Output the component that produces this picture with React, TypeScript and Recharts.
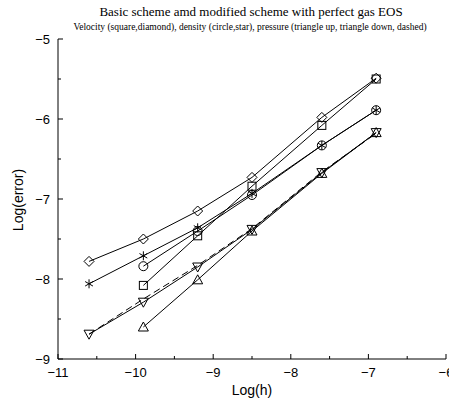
import React from 'react';
import { LineChart, Line, XAxis, YAxis } from 'recharts';

const logH = [-10.6, -9.9, -9.2, -8.5, -7.6, -6.9];
const velocitySquare = [null, -8.08, -7.46, -6.84, -6.08, -5.5];
const velocityDiamond = [-7.78, -7.5, -7.15, -6.73, -5.98, -5.49];
const densityCircle = [null, -7.84, -7.4, -6.95, -6.33, -5.89];
const densityStar = [-8.06, -7.71, -7.36, -6.93, -6.33, -5.89];
const pressureTriUp = [null, -8.6, -8.01, -7.4, -6.68, -6.17];
const pressureTriDown = [-8.69, -8.29, -7.85, -7.38, -6.67, -6.17];
const pressureDashed = [-8.69, -8.25, -7.83, -7.37, -6.66, -6.18];

const xTicks = [-11, -10.5, -10, -9.5, -9, -8.5, -8, -7.5, -7, -6.5, -6];
const yTicks = [-9, -8.5, -8, -7.5, -7, -6.5, -6, -5.5, -5];

const title = 'Basic scheme amd modified scheme with perfect gas EOS';
const subtitle =
  'Velocity (square,diamond), density (circle,star), pressure (triangle up, triangle down, dashed)';
const xLabel = 'Log(h)';
const yLabel = 'Log(error)';

const data = logH.map((x, i) => ({
  x,
  sq: velocitySquare[i],
  di: velocityDiamond[i],
  ci: densityCircle[i],
  st: densityStar[i],
  tu: pressureTriUp[i],
  td: pressureTriDown[i],
  da: pressureDashed[i],
}));

const SANS = '"Liberation Sans", Arial, Helvetica, sans-serif';
const SERIF = '"Liberation Serif", "Times New Roman", serif';

const fmt = (v: number) => (v < 0 ? '\u2212' + Math.abs(v) : String(v));

const makeDot = (kind: string, key: string) => (props: any) => {
  const { cx, cy, index, payload } = props;
  const k = `${kind}-${index}`;
  if (cx == null || cy == null || payload == null || payload[key] == null) return <g key={k} />;
  const s = { stroke: '#000', strokeWidth: 1, fill: 'none' };
  switch (kind) {
    case 'square':
      return <rect key={k} x={cx - 4} y={cy - 4} width={8} height={8} {...s} />;
    case 'diamond':
      return <polygon key={k} points={`${cx},${cy - 5} ${cx + 5},${cy} ${cx},${cy + 5} ${cx - 5},${cy}`} {...s} />;
    case 'circle':
      return <circle key={k} cx={cx} cy={cy} r={4.5} {...s} />;
    case 'star': {
      const r = 4.5;
      const a = r * Math.cos(Math.PI / 6);
      const b = r * Math.sin(Math.PI / 6);
      return (
        <g key={k} {...s}>
          <line x1={cx} y1={cy - r} x2={cx} y2={cy + r} />
          <line x1={cx - a} y1={cy - b} x2={cx + a} y2={cy + b} />
          <line x1={cx - a} y1={cy + b} x2={cx + a} y2={cy - b} />
        </g>
      );
    }
    case 'triup':
      return <polygon key={k} points={`${cx},${cy - 5} ${cx + 5},${cy + 4} ${cx - 5},${cy + 4}`} {...s} />;
    case 'tridown':
      return <polygon key={k} points={`${cx},${cy + 5} ${cx + 5},${cy - 4} ${cx - 5},${cy - 4}`} {...s} />;
    default:
      return <g key={k} />;
  }
};

const isMajor = (v: number) => Number.isInteger(v);

const BottomTick = (props: any) => {
  const { x, y, payload } = props;
  const v = payload.value;
  const major = isMajor(v);
  return (
    <g>
      <line x1={x} y1={y} x2={x} y2={y - (major ? 5 : 3)} stroke="#000" />
      {major && (
        <text x={x} y={y + 18} textAnchor="middle" fontSize={13} fontFamily={SANS} fill="#000">
          {fmt(v)}
        </text>
      )}
    </g>
  );
};

const TopTick = (props: any) => {
  const { x, y, payload } = props;
  const major = isMajor(payload.value);
  return <line x1={x} y1={y} x2={x} y2={y + (major ? 5 : 3)} stroke="#000" />;
};

const LeftTick = (props: any) => {
  const { x, y, payload } = props;
  const v = payload.value;
  const major = isMajor(v);
  return (
    <g>
      <line x1={x} y1={y} x2={x + (major ? 5 : 3)} y2={y} stroke="#000" />
      {major && (
        <text x={x - 8} y={y} dy="0.36em" textAnchor="end" fontSize={13} fontFamily={SANS} fill="#000">
          {fmt(v)}
        </text>
      )}
    </g>
  );
};

const RightTick = (props: any) => {
  const { x, y, payload } = props;
  const major = isMajor(payload.value);
  return <line x1={x} y1={y} x2={x - (major ? 5 : 3)} y2={y} stroke="#000" />;
};

const series = [
  { key: 'di', kind: 'diamond', dash: undefined },
  { key: 'st', kind: 'star', dash: undefined },
  { key: 'ci', kind: 'circle', dash: undefined },
  { key: 'sq', kind: 'square', dash: undefined },
  { key: 'tu', kind: 'triup', dash: undefined },
  { key: 'td', kind: 'tridown', dash: undefined },
  { key: 'da', kind: 'none', dash: '7 4' },
];

export default function App() {
  return (
    <div style={{ position: 'absolute', left: 0, top: 0, width: 449, height: 400, background: '#fff' }}>
      <LineChart width={449} height={400} data={data} margin={{ top: 39, right: 3, bottom: 0, left: 0 }}>
        <XAxis
          dataKey="x"
          type="number"
          domain={[-11, -6]}
          ticks={xTicks}
          interval={0}
          tickSize={0}
          tickMargin={0}
          height={41}
          axisLine={{ stroke: '#000' }}
          tickLine={false}
          tick={BottomTick}
          allowDataOverflow
        />
        <XAxis
          xAxisId="top"
          orientation="top"
          dataKey="x"
          type="number"
          domain={[-11, -6]}
          ticks={xTicks}
          interval={0}
          tickSize={0}
          tickMargin={0}
          height={0}
          axisLine={{ stroke: '#000' }}
          tickLine={false}
          tick={TopTick}
          allowDataOverflow
        />
        <YAxis
          type="number"
          domain={[-9, -5]}
          ticks={yTicks}
          interval={0}
          tickSize={0}
          tickMargin={0}
          width={58}
          axisLine={{ stroke: '#000' }}
          tickLine={false}
          tick={LeftTick}
          allowDataOverflow
        />
        <YAxis
          yAxisId="right"
          orientation="right"
          type="number"
          domain={[-9, -5]}
          ticks={yTicks}
          interval={0}
          tickSize={0}
          tickMargin={0}
          width={0}
          axisLine={{ stroke: '#000' }}
          tickLine={false}
          tick={RightTick}
          allowDataOverflow
        />
        {series.map((s) => (
          <Line
            key={s.key}
            dataKey={s.key}
            stroke="#000"
            strokeWidth={1}
            strokeDasharray={s.dash}
            dot={s.kind === 'none' ? false : makeDot(s.kind, s.key)}
            activeDot={false}
            isAnimationActive={false}
            connectNulls={false}
          />
        ))}
      </LineChart>
      <svg
        width={449}
        height={400}
        style={{ position: 'absolute', left: 0, top: 0, pointerEvents: 'none' }}
      >
        <text x={251} y={16} textAnchor="middle" fontSize={13} fontFamily={SERIF} fill="#000">
          {title}
        </text>
        <text x={250} y={30} textAnchor="middle" fontSize={9.5} fontFamily={SERIF} fill="#000">
          {subtitle}
        </text>
        <text x={252} y={395} textAnchor="middle" fontSize={14} fontFamily={SANS} fill="#000">
          {xLabel}
        </text>
        <text
          x={0}
          y={0}
          transform="translate(23,200) rotate(-90)"
          textAnchor="middle"
          fontSize={14}
          fontFamily={SANS}
          fill="#000"
        >
          {yLabel}
        </text>
      </svg>
    </div>
  );
}
